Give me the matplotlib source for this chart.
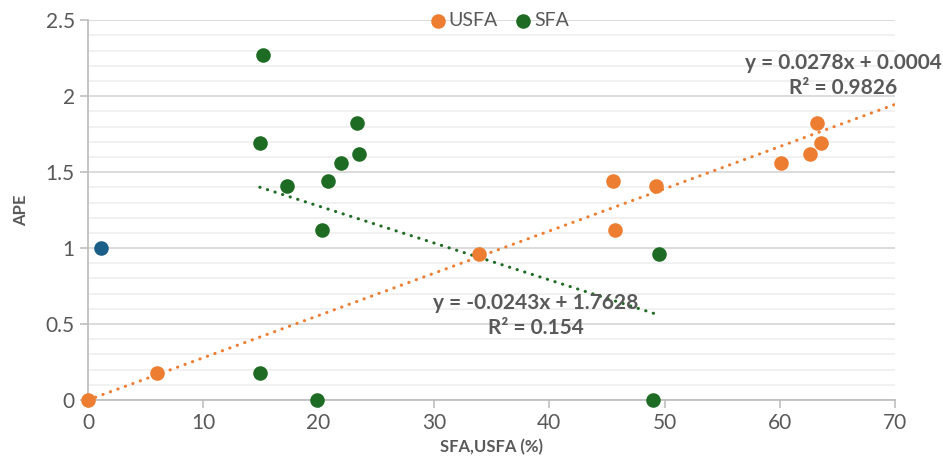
import matplotlib.pyplot as plt
from matplotlib.ticker import MultipleLocator
import numpy as np

plt.rcParams['font.family'] = ['Lato', 'DejaVu Sans']

# data
usfa_x = [0, 6, 33.9, 45.5, 45.7, 49.3, 60.1, 62.6, 63.2, 63.6]
usfa_y = [0, 0.18, 0.96, 1.44, 1.12, 1.41, 1.56, 1.62, 1.82, 1.69]

sfa_x = [15.2, 14.9, 17.3, 20.3, 20.8, 21.9, 23.3, 23.5, 14.9, 19.9, 49.0, 49.5]
sfa_y = [2.27, 1.69, 1.41, 1.12, 1.44, 1.56, 1.82, 1.62, 0.18, 0, 0, 0.96]

other_x = [1.1]
other_y = [1.0]

# trendline coefficients (from the chart labels) and their x-extent
usfa_fit = [0.0278, 0.0004]
usfa_fit_x = [0, 70]
sfa_fit = [-0.0243, 1.7628]
sfa_fit_x = [14.9, 49.2]

ORANGE = '#ED7D31'
GREEN = '#1E6B24'
BLUE = '#1B5E87'
TEXT = '#595959'

fig = plt.figure(figsize=(9.43, 4.69), dpi=100)
ax = fig.add_axes([0.0933, 0.147, 0.856, 0.81])

# grid
ax.set_xlim(0, 70)
ax.set_ylim(0, 2.5)
ax.yaxis.set_major_locator(MultipleLocator(0.5))
ax.yaxis.set_minor_locator(MultipleLocator(0.1))
ax.xaxis.set_major_locator(MultipleLocator(10))
ax.grid(which='major', axis='y', color='#D9D9D9', lw=1.3, zorder=0)
ax.grid(which='minor', axis='y', color='#F0F0F0', lw=1.3, zorder=0)
ax.set_axisbelow(True)

for s in ['top', 'right']:
    ax.spines[s].set_visible(False)
for s in ['left', 'bottom']:
    ax.spines[s].set_color('#BFBFBF')
    ax.spines[s].set_linewidth(1.3)

ax.tick_params(which='major', axis='both', colors='#BFBFBF', labelcolor=TEXT,
               labelsize=15, length=6, width=1.2)
ax.tick_params(which='minor', axis='y', length=0)
ax.set_yticks([0, 0.5, 1, 1.5, 2, 2.5])
ax.set_yticklabels(['0', '0.5', '1', '1.5', '2', '2.5'])

# trendlines
xs = np.array(usfa_fit_x)
ax.plot(xs, usfa_fit[0] * xs + usfa_fit[1], color=ORANGE, lw=2.2,
        linestyle=(0, (0.1, 2.5)), dash_capstyle='round', zorder=2)
xs = np.array(sfa_fit_x)
ax.plot(xs, sfa_fit[0] * xs + sfa_fit[1], color=GREEN, lw=2.2,
        linestyle=(0, (0.1, 2.5)), dash_capstyle='round', zorder=2)

# points
ax.scatter(usfa_x, usfa_y, s=110, color=ORANGE, label='USFA', zorder=3,
           linewidths=0, clip_on=False)
ax.scatter(sfa_x, sfa_y, s=110, color=GREEN, label='SFA', zorder=3,
           linewidths=0, clip_on=False)
ax.scatter(other_x, other_y, s=110, color=BLUE, zorder=3, linewidths=0, clip_on=False)

# equation labels
ax.text(65.5, 2.135, 'y = 0.0278x + 0.0004\nR² = 0.9826', ha='center', va='center',
        fontsize=15, fontweight='bold', color=TEXT, linespacing=1.3, zorder=4)
ax.text(38.8, 0.556, 'y = -0.0243x + 1.7628\nR² = 0.154', ha='center', va='center',
        fontsize=15, fontweight='bold', color=TEXT, linespacing=1.3, zorder=4)

ax.set_xlabel('SFA,USFA (%)', fontsize=12, fontweight='bold', color=TEXT, labelpad=4)
ax.set_ylabel('APE', fontsize=12, fontweight='bold', color=TEXT, labelpad=12)

leg = ax.legend(loc='center', bbox_to_anchor=(0.51, 1.0), ncol=2, frameon=False,
                fontsize=14, handlelength=0.8, handletextpad=0.15, columnspacing=0.9,
                markerscale=1.0, labelcolor=TEXT)

fig.savefig('out.png', dpi=100)
